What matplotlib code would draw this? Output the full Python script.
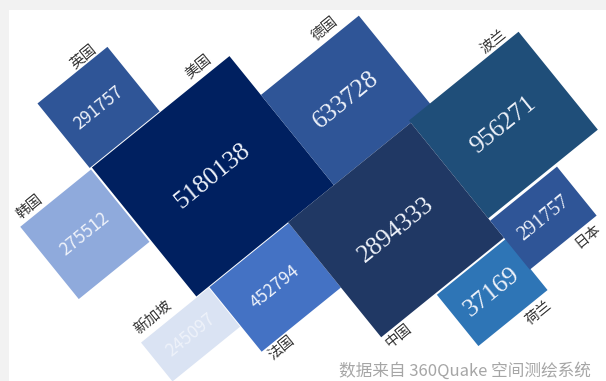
import matplotlib
matplotlib.use('Agg')
import matplotlib.pyplot as plt
from matplotlib.patches import Rectangle
from matplotlib.transforms import Affine2D

plt.rcParams['font.family'] = ['Noto Sans CJK SC', 'DejaVu Sans']

# 国家 / 数量
names = ['英国', '美国', '德国', '波兰', '韩国', '新加坡', '法国', '中国', '荷兰', '日本']
values = [291757, 5180138, 633728, 956271, 275512, 245097, 452794, 2894333, 37169, 291757]

colors = ['#2f5597', '#002060', '#2f5597', '#1f4e79', '#8faadc',
          '#dae3f3', '#4472c4', '#203864', '#2e75b6', '#2f5597']

# 旋转坐标系下的方块 (u0, v0, u1, v1)
boxes = [(-36, 104, 54, 187), (-34, 188, 143, 354), (143, 238, 269, 354),
         (242, 351, 383, 477), (-127, 189, -36, 282), (-106, 355, -19, 405),
         (-18, 355, 84, 438), (84, 354, 242, 502), (154, 504, 243, 570),
         (242, 480, 328, 543)]
# 国家名位置 (u, v)
label_pos = [(29, 97), (112, 177), (234, 227), (357, 343), (-107, 180),
             (-81, 343), (0, 448), (99, 512), (222, 582), (308, 553)]
# 数值字体: (serif?, 字号)
num_style = [(False, 12.5), (True, 18.5), (True, 18.5), (True, 18.5), (False, 12.5),
             (False, 12.5), (False, 12.5), (True, 18.5), (True, 18.5), (True, 14.5)]

W, H = 606, 381
fig = plt.figure(figsize=(W / 100, H / 100), dpi=100)
fig.patch.set_facecolor('#f2f2f2')
ax = fig.add_axes([0, 0, 1, 1])
ax.set_xlim(0, W)
ax.set_ylim(H, 0)
ax.axis('off')
ax.add_patch(Rectangle((9, 10), W - 9, H - 10, facecolor='white', edgecolor='none', zorder=0))

angle = 39
rot = Affine2D().rotate_deg(-angle) + ax.transData

for name, val, col, (u0, v0, u1, v1), (lu, lv), (serif, fs) in zip(
        names, values, colors, boxes, label_pos, num_style):
    ax.add_patch(Rectangle((u0, v0), u1 - u0, v1 - v0, facecolor=col,
                           edgecolor='none', transform=rot, zorder=2))
    fam = ['Liberation Serif'] if serif else ['Noto Sans CJK SC']
    ax.text((u0 + u1) / 2, (v0 + v1) / 2, str(val), transform=rot, rotation=angle,
            rotation_mode='anchor', ha='center', va='center', color='#eef2fa',
            fontsize=fs, family=fam, zorder=3)
    ax.text(lu, lv, name, transform=rot, rotation=angle, rotation_mode='anchor',
            ha='center', va='center', color='#333333', fontsize=10.5, zorder=3)

ax.text(591, 371, '数据来自 360Quake 空间测绘系统', ha='right', va='center',
        color='#a6a6a6', fontsize=12)

fig.savefig('out.png', dpi=100, facecolor=fig.get_facecolor())
